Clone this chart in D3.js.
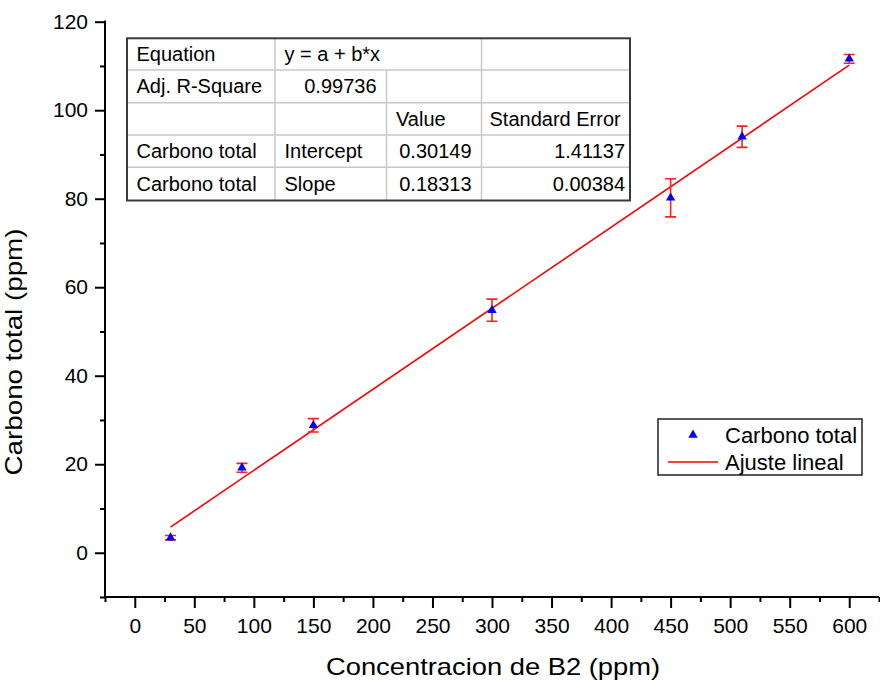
<!DOCTYPE html>
<html><head><meta charset="utf-8">
<script src="https://cdn.jsdelivr.net/npm/d3@7"></script>
<style>body{margin:0;background:#fff}svg{display:block}text{font-family:Arial,"Liberation Sans",sans-serif;fill:#000}</style>
</head><body>
<svg id="c" width="880" height="682"></svg>
<script>
// ---- data ----
const concX = [30, 90, 150, 300, 450, 510, 600];
const carbonY = [3.4, 19.2, 28.8, 54.8, 80.2, 94.0, 111.6];
const carbonErr = [0.5, 1.0, 1.5, 2.5, 4.3, 2.4, 1.0];
const fitIntercept = 0.30149;
const fitSlope = 0.18313;
const fitRange = [30, 600];
const xTicks = [0,50,100,150,200,250,300,350,400,450,500,550,600];
const yTicks = [0,20,40,60,80,100,120];
const tableRows = [
  ["Equation", "y = a + b*x", null, ""],
  ["Adj. R-Square", "0.99736", "", ""],
  ["", "", "Value", "Standard Error"],
  ["Carbono total", "Intercept", "0.30149", "1.41137"],
  ["Carbono total", "Slope", "0.18313", "0.00384"]
];
const legendLabels = ["Carbono total", "Ajuste lineal"];
const xTitle = "Concentracion de B2 (ppm)";
const yTitle = "Carbono total (ppm)";

const svg = d3.select("#c");
const x = d3.scaleLinear().domain([-25, 625]).range([105, 879]);
const y = d3.scaleLinear().domain([-10, 120]).range([597, 21.7]);

// axes
const xMinor = d3.range(-25, 626, 25);
const yMinor = d3.range(-10, 121, 10);
const gx = svg.append("g").attr("transform", `translate(0,${y(-10)})`);
gx.call(d3.axisBottom(x).tickValues(xMinor.filter(v => xTicks.indexOf(v) < 0)).tickSize(5).tickFormat(""));
gx.append("g").call(d3.axisBottom(x).tickValues(xTicks).tickSize(11).tickPadding(8).tickSizeOuter(0));
gx.selectAll(".domain").attr("stroke", "#000").attr("stroke-width", 2);
gx.selectAll(".tick line").attr("stroke", "#000").attr("stroke-width", 2);
gx.selectAll(".tick text").attr("font-size", 21).attr("fill", "#000").attr("font-family", "Arial, 'Liberation Sans', sans-serif").attr("dy", "0.8em");
gx.selectAll(".domain").attr("d", `M${x(-25)},0H${x(625)}`);

const gy = svg.append("g").attr("transform", `translate(${x(-25)},0)`);
gy.call(d3.axisLeft(y).tickValues(yMinor.filter(v => yTicks.indexOf(v) < 0)).tickSize(5).tickFormat(""));
gy.append("g").call(d3.axisLeft(y).tickValues(yTicks).tickSize(10).tickPadding(7).tickSizeOuter(0));
gy.selectAll(".domain").attr("stroke", "#000").attr("stroke-width", 2).attr("d", `M0,${y(120)-1}V${y(-10)+1}`);
gy.selectAll(".tick line").attr("stroke", "#000").attr("stroke-width", 2);
gy.selectAll(".tick text").attr("font-size", 21).attr("fill", "#000").attr("font-family", "Arial, 'Liberation Sans', sans-serif");

// titles
svg.append("text").attr("x", 493).attr("y", 675).attr("text-anchor", "middle")
  .attr("font-size", 24).attr("textLength", 334).attr("lengthAdjust", "spacingAndGlyphs").text(xTitle);
svg.append("text").attr("transform", "translate(22,352) rotate(-90)").attr("text-anchor", "middle")
  .attr("font-size", 24).attr("textLength", 247).attr("lengthAdjust", "spacingAndGlyphs").text(yTitle);

// fit line
svg.append("line")
  .attr("x1", x(fitRange[0])).attr("y1", y(fitIntercept + fitSlope * fitRange[0]))
  .attr("x2", x(fitRange[1])).attr("y2", y(fitIntercept + fitSlope * fitRange[1]))
  .attr("stroke", "#ff0000").attr("stroke-width", 1.6);

// error bars
const pts = concX.map((v, i) => ({x: v, y: carbonY[i], e: carbonErr[i]}));
const eb = svg.append("g").attr("stroke", "#ff2020").attr("stroke-width", 1.6).attr("fill", "none");
pts.forEach(p => {
  const cx = x(p.x), t = y(p.y + p.e), b = y(p.y - p.e);
  eb.append("path").attr("d", `M${cx},${t}V${b}M${cx-5.5},${t}H${cx+5.5}M${cx-5.5},${b}H${cx+5.5}`);
});

// markers
const tri = d3.symbol().type(d3.symbolTriangle).size(38);
svg.append("g").selectAll("path").data(pts).join("path")
  .attr("d", tri).attr("transform", d => `translate(${x(d.x)},${y(d.y)})`).attr("fill", "#0000ff");

// table
const colX = [127, 275, 386.5, 481.5, 630];
const rowY = [38.3, 70, 102.7, 135, 167.3, 200.5];
const tbl = svg.append("g");
tbl.append("rect").attr("x", colX[0]).attr("y", rowY[0]).attr("width", colX[4]-colX[0]).attr("height", rowY[5]-rowY[0]).attr("fill", "#fff");
const grid = tbl.append("g").attr("stroke", "#c8c8c8").attr("stroke-width", 1.5);
for (let r = 1; r < 5; r++) grid.append("line").attr("x1", colX[0]).attr("x2", colX[4]).attr("y1", rowY[r]).attr("y2", rowY[r]);
grid.append("line").attr("x1", colX[1]).attr("x2", colX[1]).attr("y1", rowY[0]).attr("y2", rowY[5]);
grid.append("line").attr("x1", colX[2]).attr("x2", colX[2]).attr("y1", rowY[1]).attr("y2", rowY[5]);
grid.append("line").attr("x1", colX[3]).attr("x2", colX[3]).attr("y1", rowY[0]).attr("y2", rowY[5]);
tbl.append("rect").attr("x", colX[0]).attr("y", rowY[0]).attr("width", colX[4]-colX[0]).attr("height", rowY[5]-rowY[0])
  .attr("fill", "none").attr("stroke", "#3a3a3a").attr("stroke-width", 2);
const isNum = s => /^[0-9.]+$/.test(s);
tableRows.forEach((row, r) => {
  row.forEach((cell, c) => {
    if (!cell) return;
    const num = isNum(cell);
    const base = (rowY[r] + rowY[r+1]) / 2 + 7;
    let tx, anchor;
    if (num) { anchor = "end"; tx = (c === 3 ? colX[c+1] - 5 : colX[c+1] - 10); }
    else { anchor = "start"; tx = colX[c] + (c === 3 ? 8 : 9.5); }
    tbl.append("text").attr("x", tx).attr("y", base).attr("text-anchor", anchor)
      .attr("font-size", 20).text(cell);
  });
});

// legend
const lg = svg.append("g");
lg.append("rect").attr("x", 658).attr("y", 419).attr("width", 204).attr("height", 56)
  .attr("fill", "#fff").attr("stroke", "#222").attr("stroke-width", 1.5);
lg.append("path").attr("d", tri).attr("transform", "translate(693,435)").attr("fill", "#0000ff");
lg.append("line").attr("x1", 668).attr("x2", 718).attr("y1", 462).attr("y2", 462).attr("stroke", "#ff0000").attr("stroke-width", 1.4);
lg.selectAll("text.l").data(legendLabels).join("text").attr("class", "l")
  .attr("x", 725).attr("y", (d, i) => 443 + i * 27).attr("font-size", 22).text(d => d);
</script>
</body></html>
